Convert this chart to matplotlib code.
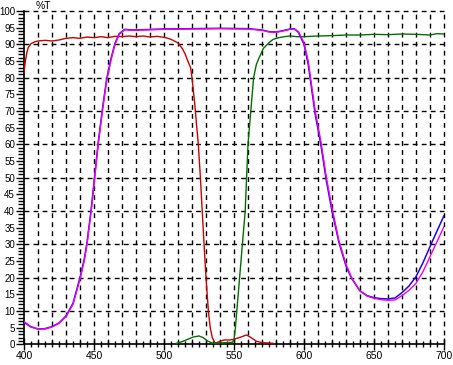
import matplotlib
matplotlib.use("Agg")
import matplotlib.pyplot as plt
import numpy as np

plt.rcParams['font.family'] = ['Liberation Sans', 'DejaVu Sans']

# ---------------- data ----------------
wl_b = [400, 405, 410, 415, 420, 425, 430, 435, 440, 443, 445, 448, 450, 453, 456, 459,
        462, 465, 468, 472, 477, 485, 500, 520, 540, 560, 570, 575, 580, 585, 590, 593,
        596, 600, 603, 605, 608, 612, 616, 620, 625, 630, 634, 640, 645, 650, 655, 660,
        665, 670, 675, 680, 685, 690, 695, 700]
magenta_t = [6.8, 5.3, 4.6, 4.6, 5.2, 6.3, 8.3, 12, 19.5, 25, 30, 40, 48, 60, 70, 79,
             85, 90, 93, 94.4, 94.2, 94.3, 94.5, 94.6, 94.7, 94.6, 94.2, 93.7, 93.6, 94.0, 94.5, 94.6,
             93.8, 90.5, 85, 79, 70, 61, 50, 41, 31, 24, 20, 16, 14.5, 13.8, 13.4, 13.2,
             13.3, 14.6, 16.2, 18.3, 21.8, 26.3, 30.8, 35.3]
blue_t = [6.6, 5.2, 4.6, 4.7, 5.3, 6.4, 8.5, 12.3, 20, 25.5, 30.5, 40.5, 48.5, 60.5, 70.5, 79.5,
          85.5, 90.3, 93.2, 94.5, 94.3, 94.4, 94.6, 94.7, 94.8, 94.7, 94.3, 93.8, 93.7, 94.1, 94.6, 94.7,
          93.6, 90, 84, 78, 69, 60, 49, 40, 30.5, 23.5, 19.8, 16, 14.6, 14.0, 13.7, 13.6,
          13.9, 15.5, 17.5, 20.3, 24.5, 29.3, 34.0, 38.6]

wl_r = [400, 401, 402, 403, 405, 408, 410, 415, 420, 425, 430, 435, 440, 445, 450, 455,
        460, 465, 470, 475, 480, 485, 490, 495, 500, 503, 506, 510, 513, 515, 517, 519,
        520, 521, 522, 523, 524.5, 526, 527.3, 528.6, 530, 531.7, 533, 534.5, 536.5, 540,
        543, 547, 550, 555, 559, 563, 566, 570, 574, 578]
red_t = [81.6, 85, 87.5, 89, 90.2, 90.8, 91, 91.2, 91, 91.3, 91.8, 92, 91.8, 92.2, 92, 92.3,
         92, 92.4, 92.3, 92.5, 92.3, 92.5, 92.2, 92.4, 92.1, 91.8, 91.3, 90.4, 88.8, 87.2, 85, 83,
         80, 76, 72, 67, 60, 50, 40, 30, 20, 10, 5, 2, 0.3, 0.9,
         1.3, 1.3, 1.5, 2.2, 2.8, 1.8, 0.9, 0.5, 0.4, 0.3]

wl_g = [509, 513, 517, 521, 525, 528, 531, 535, 540, 545, 549, 550, 551, 552, 554, 556,
        558, 559, 560, 562, 564, 566, 568, 571, 575, 578, 582, 586, 590, 595, 600, 610,
        620, 630, 640, 650, 660, 670, 680, 690, 695, 700]
green_t = [0.3, 0.8, 1.5, 2.2, 2.5, 2.0, 1.0, 0.3, 0.4, 0.5, 0.6, 1.5, 5, 10, 20, 30,
           40, 50, 60, 70, 80, 84, 86, 88.8, 90.5, 91.5, 92, 92.3, 92.5, 92.3, 92.3, 92.5,
           92.6, 92.8, 92.8, 93, 92.9, 93.1, 93.0, 92.8, 93.2, 93.1]

x_ticks = [400, 450, 500, 550, 600, 650, 700]
y_ticks = list(range(0, 101, 5))

# ---------------- figure ----------------
W, H = 453, 365
fig = plt.figure(figsize=(W / 100, H / 100), dpi=100)
ax = fig.add_axes([24 / W, (H - 344.3) / H, 420 / W, 333.3 / H])
ax.set_xlim(400, 700)
ax.set_ylim(0, 100)

for v in range(10, 101, 10):
    ax.axhline(v, color="black", lw=1, ls=(0, (3.5, 3)), zorder=1, clip_on=False)
for v in range(410, 701, 10):
    ax.axvline(v, color="black", lw=1, ls=(0, (3.5, 3)), zorder=1, clip_on=False)

ax.plot(wl_r, red_t, color="#cc0000", lw=1, zorder=3)
ax.plot(wl_g, green_t, color="#007000", lw=1, zorder=3)
ax.plot(wl_b, blue_t, color="#2200ee", lw=1.1, zorder=3)
ax.plot(wl_b, magenta_t, color="#ee00ee", lw=1, zorder=4)

for s in ["top", "right"]:
    ax.spines[s].set_visible(False)
for s in ["left", "bottom"]:
    ax.spines[s].set_linewidth(1.2)

ax.set_xticks(x_ticks)
ax.set_xticks(np.arange(400, 701, 5), minor=True)
ax.set_yticks(y_ticks)
ax.set_yticks(np.arange(0, 101, 1), minor=True)
ax.tick_params(axis="y", which="major", direction="out", length=6, width=1, labelsize=7, pad=0.5)
ax.tick_params(axis="y", which="minor", direction="out", length=4, width=1)
ax.tick_params(axis="x", which="major", direction="inout", length=8, width=1, labelsize=7.5, pad=1)
ax.tick_params(axis="x", which="minor", direction="inout", length=4, width=1)

fig.text(36 / W, (H - 6) / H, "%T", fontsize=7.5, ha="left", va="center")

fig.savefig("out.png", dpi=100)
